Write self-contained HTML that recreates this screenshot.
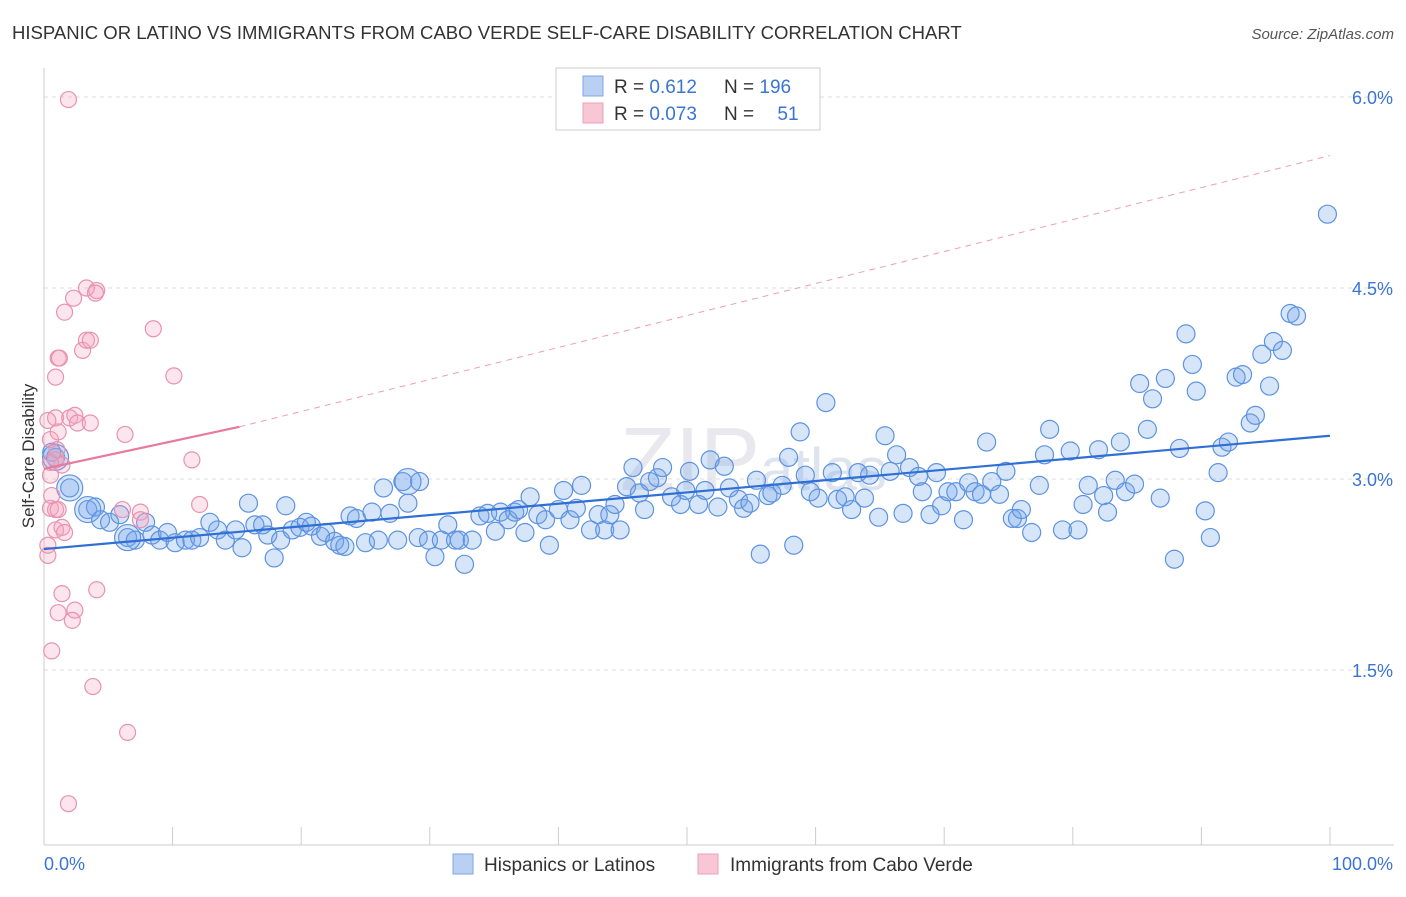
<!DOCTYPE html>
<html><head><meta charset="utf-8">
<style>
body{margin:0;background:#fff;font-family:"Liberation Sans",sans-serif;}
svg text{font-family:"Liberation Sans",sans-serif;}
</style></head>
<body>
<svg id="chart" width="1406" height="892" viewBox="0 0 1406 892" xmlns="http://www.w3.org/2000/svg">
<text x="12" y="39" font-size="18.55" fill="#333">HISPANIC OR LATINO VS IMMIGRANTS FROM CABO VERDE SELF-CARE DISABILITY CORRELATION CHART</text>
<text x="1394" y="39" font-size="15" fill="#555" text-anchor="end" font-style="italic">Source: ZipAtlas.com</text>
<text x="620" y="490" font-size="90" fill="#e8e8ee" font-family="Liberation Serif">ZIP<tspan font-size="60" font-family="Liberation Sans" fill="#dde4f0">atlas</tspan></text>
<g id="grid"></g>
<g id="axes"></g>
<text transform="translate(34,456) rotate(-90)" font-size="17" fill="#333" text-anchor="middle">Self-Care Disability</text>
<g id="pts"></g>
<g id="trends"></g>
<g>
<rect x="556" y="68" width="264" height="62" fill="#fff" stroke="#ccc"/>
<rect x="583" y="76" width="20" height="20" fill="#b9d0f3" stroke="#7fa6e3"/>
<rect x="583" y="103" width="20" height="20" fill="#f7c7d6" stroke="#eba0b8"/>
<text x="614" y="93" font-size="19" fill="#333">R = <tspan fill="#3a74d4">0.612</tspan></text>
<text x="724" y="93" font-size="19" fill="#333">N = <tspan fill="#3a74d4">196</tspan></text>
<text x="614" y="120" font-size="19" fill="#333">R = <tspan fill="#3a74d4">0.073</tspan></text>
<text x="724" y="120" font-size="19" fill="#333">N = <tspan fill="#3a74d4" dx="18">51</tspan></text>
</g>
<g>
<rect x="453" y="854" width="20" height="20" fill="#b9d0f3" stroke="#7fa6e3"/>
<text x="484" y="871" font-size="19" fill="#333">Hispanics or Latinos</text>
<rect x="698" y="854" width="20" height="20" fill="#f7c7d6" stroke="#eba0b8"/>
<text x="730" y="871" font-size="19" fill="#333">Immigrants from Cabo Verde</text>
</g>
</svg>
<script>
const yTicks=[1.5,3.0,4.5,6.0];
const yTickLabels=["1.5%","3.0%","4.5%","6.0%"];
const xTicks=[0,10,20,30,40,50,60,70,80,90,100];
const blueX=[0.6,0.9,2.0,3.4,4.0,4.4,5.1,5.9,6.5,7.1,7.9,8.4,9.0,9.6,10.2,11.0,11.5,12.1,12.9,13.5,14.1,14.9,15.4,15.9,16.4,17.0,17.4,17.9,18.4,18.8,19.3,19.9,20.4,20.8,21.5,21.9,22.6,23.0,23.4,23.8,24.3,25.0,25.5,26.0,26.4,26.9,27.5,27.9,28.3,29.1,29.2,29.9,30.4,30.9,31.4,32.0,32.3,32.7,33.3,33.9,34.5,35.1,35.5,36.1,36.6,36.9,37.4,37.8,38.4,39.0,39.3,40.0,40.4,40.9,41.4,41.8,42.5,43.1,43.6,44.0,44.4,44.8,45.3,45.8,46.3,46.7,47.1,47.7,48.1,48.8,49.5,49.9,50.2,50.9,51.4,51.8,52.4,52.9,53.3,54.0,54.4,54.9,55.4,55.7,56.3,56.6,57.4,57.9,58.3,58.8,59.2,59.6,60.2,60.8,61.3,61.7,62.3,62.8,63.3,63.8,64.2,64.9,65.4,65.8,66.3,66.8,67.3,68.0,68.3,68.9,69.4,69.8,70.3,70.9,71.5,71.9,72.4,72.9,73.3,73.7,74.3,74.8,75.3,75.7,76.0,76.8,77.4,77.8,78.2,79.2,79.8,80.4,80.8,81.2,82.0,82.4,82.7,83.3,83.7,84.1,84.8,85.2,85.8,86.2,86.8,87.2,87.9,88.3,88.8,89.3,89.6,90.3,90.7,91.3,91.6,92.1,92.7,93.2,93.8,94.2,94.7,95.3,95.6,96.3,96.9,97.4,99.8];
const blueY=[3.21,3.17,2.93,2.76,2.78,2.68,2.66,2.72,2.54,2.52,2.66,2.56,2.52,2.58,2.50,2.52,2.52,2.54,2.66,2.60,2.52,2.60,2.46,2.81,2.64,2.64,2.56,2.38,2.52,2.79,2.60,2.62,2.66,2.63,2.55,2.58,2.51,2.48,2.47,2.71,2.69,2.50,2.74,2.52,2.93,2.73,2.52,2.98,2.81,2.54,2.98,2.52,2.39,2.52,2.64,2.52,2.52,2.33,2.52,2.71,2.73,2.59,2.74,2.68,2.74,2.76,2.58,2.86,2.72,2.68,2.48,2.76,2.91,2.68,2.77,2.95,2.60,2.72,2.60,2.72,2.80,2.60,2.94,3.09,2.89,2.76,2.98,3.01,3.09,2.86,2.80,2.91,3.06,2.80,2.91,3.15,2.78,3.10,2.93,2.84,2.77,2.81,2.99,2.41,2.87,2.89,2.95,3.17,2.48,3.37,3.03,2.90,2.85,3.60,3.05,2.84,2.86,2.76,3.05,2.85,3.03,2.70,3.34,3.06,3.19,2.73,3.09,3.02,2.90,2.72,3.05,2.79,2.90,2.90,2.68,2.97,2.90,2.88,3.29,2.98,2.88,3.06,2.69,2.69,2.76,2.58,2.95,3.19,3.39,2.60,3.22,2.60,2.80,2.95,3.23,2.87,2.74,2.99,3.29,2.90,2.96,3.75,3.39,3.63,2.85,3.79,2.37,3.24,4.14,3.90,3.69,2.75,2.54,3.05,3.25,3.29,3.80,3.82,3.44,3.50,3.98,3.73,4.08,4.01,4.30,4.28,5.08];
const blueBigX=[2.0,3.4,6.5,0.9,28.3];
const blueBigY=[2.93,2.76,2.54,3.17,2.98];
const pinkX=[1.9,2.3,1.6,3.3,4.1,4.0,1.1,1.2,0.9,3.0,3.3,3.6,8.5,10.1,6.3,11.5,12.1,0.9,2.0,2.4,2.6,3.6,0.5,0.9,1.4,0.5,0.5,0.5,0.9,1.1,6.1,7.5,0.9,1.4,1.6,0.3,0.3,1.4,2.4,2.2,1.1,4.1,0.6,3.8,6.5,1.9,0.6,1.0,1.1,0.3,7.5];
const pinkY=[5.98,4.42,4.31,4.50,4.48,4.46,3.95,3.95,3.80,4.01,4.09,4.09,4.18,3.81,3.35,3.15,2.80,3.48,3.48,3.50,3.44,3.44,3.31,3.15,3.11,3.13,3.03,2.77,2.76,2.76,2.76,2.74,2.60,2.62,2.58,2.40,2.48,2.10,1.97,1.89,1.95,2.13,1.65,1.37,1.01,0.45,2.87,3.23,3.37,3.46,2.68];
const blueTrend=[[0,2.45],[100,3.34]];
const pinkTrend=[[0,3.08],[15.2,3.41]];
const pinkTrendExt=[[15.2,3.41],[100,5.54]];

const NS="http://www.w3.org/2000/svg";
const X0=44,X1=1330,YB=861,YS=127.33;
function sx(v){return X0+(X1-X0)*v/100;}
function sy(v){return YB-v*YS;}
function mk(tag,attrs,parent){const e=document.createElementNS(NS,tag);for(const k in attrs)e.setAttribute(k,attrs[k]);parent.appendChild(e);return e;}
const grid=document.getElementById('grid'),axes=document.getElementById('axes'),pts=document.getElementById('pts'),tr=document.getElementById('trends');
yTicks.forEach((t,i)=>{
  const l=mk('line',{x1:44,x2:1394,y1:sy(t),y2:sy(t),stroke:'#ddd','stroke-dasharray':'4,4'},grid);
  
  
  const tx=mk('text',{x:1393,y:sy(t)+7,'font-size':18,fill:'#3a74d4','text-anchor':'end'},grid);
  tx.textContent=yTickLabels[i];
  
  
});
const ax=mk('line',{x1:44,x2:44,y1:68,y2:845,stroke:'#ccc'},axes);


const bx=mk('line',{x1:44,x2:1394,y1:845,y2:845,stroke:'#ccc'},axes);


xTicks.forEach(t=>{
  const l=mk('line',{x1:sx(t),x2:sx(t),y1:827,y2:845,stroke:'#ccc'},axes);
  
  
});
const xl0=mk('text',{x:44,y:870,'font-size':18,fill:'#3a74d4'},axes);xl0.textContent='0.0%';


const xl1=mk('text',{x:1393,y:870,'font-size':18,fill:'#3a74d4','text-anchor':'end'},axes);xl1.textContent='100.0%';



blueX.forEach((x,i)=>{
  const c=mk('circle',{cx:sx(x),cy:sy(blueY[i]),r:9,fill:'rgba(110,160,235,0.28)',stroke:'#5d93e0','stroke-width':1.2},pts);
  
  
});
blueBigX.forEach((x,i)=>{
  const c=mk('circle',{cx:sx(x),cy:sy(blueBigY[i]),r:13,fill:'rgba(110,160,235,0.28)',stroke:'#5d93e0','stroke-width':1.2},pts);
  
  
});
pinkX.forEach((x,i)=>{
  const c=mk('circle',{cx:sx(x),cy:sy(pinkY[i]),r:8,fill:'rgba(245,160,190,0.28)',stroke:'#e893b0','stroke-width':1.2},pts);
  
  
});
const bl=mk('line',{x1:sx(blueTrend[0][0]),y1:sy(blueTrend[0][1]),x2:sx(blueTrend[1][0]),y2:sy(blueTrend[1][1]),stroke:'#2f6fd6','stroke-width':2.2},tr);


const pl=mk('line',{x1:sx(pinkTrend[0][0]),y1:sy(pinkTrend[0][1]),x2:sx(pinkTrend[1][0]),y2:sy(pinkTrend[1][1]),stroke:'#e8799f','stroke-width':2.2},tr);


const pe=mk('line',{x1:sx(pinkTrendExt[0][0]),y1:sy(pinkTrendExt[0][1]),x2:sx(pinkTrendExt[1][0]),y2:sy(pinkTrendExt[1][1]),stroke:'#eba0b8','stroke-width':1,'stroke-dasharray':'6,5'},tr);


</script>
</body></html>
